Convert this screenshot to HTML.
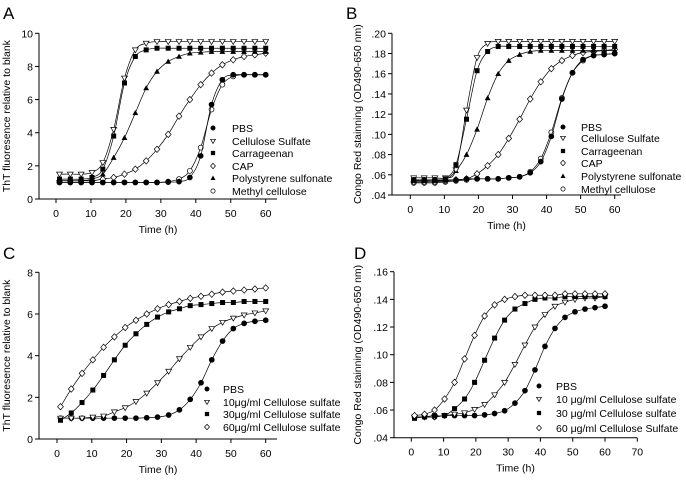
<!DOCTYPE html>
<html><head><meta charset="utf-8"><style>
html,body{margin:0;padding:0;background:#fff}
svg{display:block;font-family:"Liberation Sans",Arial,sans-serif}
</style></head><body>
<svg id="fig" width="686" height="480" viewBox="0 0 686 480" xmlns="http://www.w3.org/2000/svg"></svg>
<script>
const times = [1,4.1,7.2,10.3,13.4,16.5,19.6,22.7,25.8,28.9,32.1,35.2,38.3,41.4,44.5,47.6,50.7,53.8,56.9,60];

const aNames = ["PBS","Cellulose Sulfate","Carrageenan","CAP","Polystyrene sulfonate","Methyl cellulose"];
const aPBS = [1,1,1,1,1,1,1,1,1,1,1.02,1.05,1.3,2.6,5.7,7.2,7.5,7.5,7.5,7.5];
const aCS = [1.5,1.5,1.5,1.6,2.2,4.2,7.3,9.0,9.4,9.5,9.5,9.5,9.5,9.5,9.5,9.5,9.5,9.5,9.5,9.5];
const aCarr = [1.2,1.2,1.2,1.3,1.8,3.8,7.0,8.6,9.0,9.1,9.1,9.1,9.1,9.1,9.1,9.1,9.1,9.1,9.1,9.1];
const aCAP = [1.1,1.1,1.1,1.1,1.2,1.3,1.5,1.8,2.3,3.0,3.9,5.0,6.0,6.9,7.6,8.1,8.4,8.6,8.7,8.8];
const aPS = [1.1,1.1,1.1,1.2,1.5,2.5,3.7,5.2,6.7,7.7,8.3,8.6,8.8,8.85,8.9,8.9,8.9,8.9,8.9,8.9];
const aMC = [1,1,1,1,1,1,1,1,1,1,1.05,1.2,1.7,3.1,5.4,6.9,7.4,7.5,7.5,7.5];
const aYTicks = [0,2,4,6,8,10];

const bPBS = [.055,.055,.055,.055,.055,.056,.056,.056,.056,.057,.058,.062,.073,.098,.135,.161,.174,.178,.179,.180];
const bCS = [.057,.057,.057,.057,.065,.124,.176,.190,.192,.192,.192,.192,.192,.192,.192,.192,.192,.192,.192,.192];
const bCarr = [.055,.055,.055,.056,.070,.115,.163,.182,.187,.187,.187,.187,.187,.187,.187,.187,.187,.187,.187,.187];
const bCAP = [.053,.053,.053,.054,.055,.056,.061,.069,.080,.096,.115,.135,.152,.165,.173,.178,.181,.182,.183,.184];
const bPS = [.054,.054,.054,.055,.064,.080,.105,.136,.160,.173,.179,.182,.183,.183,.183,.183,.183,.183,.183,.183];
const bMC = [.052,.052,.052,.053,.054,.055,.056,.056,.056,.057,.058,.063,.076,.102,.136,.161,.173,.178,.179,.180];
const bYTicks = [.04,.06,.08,.10,.12,.14,.16,.18,.20];

const cNames = ["PBS","10μg/ml Cellulose sulfate","30μg/ml Cellulose sulfate","60μg/ml Cellulose sulfate"];
const cPBS = [1,1,1,1,1,1,1,1,1.02,1.05,1.15,1.4,1.9,2.7,3.8,4.7,5.3,5.55,5.65,5.7];
const c10 = [1,1,1,1.05,1.1,1.3,1.5,1.8,2.2,2.7,3.25,3.85,4.4,4.9,5.3,5.6,5.8,5.95,6.05,6.15];
const c30 = [0.9,1.25,1.75,2.35,3.05,3.8,4.5,5.05,5.5,5.85,6.1,6.25,6.4,6.45,6.5,6.55,6.55,6.6,6.6,6.6];
const c60 = [1.55,2.4,3.15,3.8,4.4,4.9,5.35,5.7,6.0,6.25,6.45,6.6,6.75,6.85,6.95,7.05,7.1,7.15,7.2,7.25];
const cYTicks = [0,2,4,6,8];

const dNames = ["PBS","10 μg/ml Cellulose sulfate","30 μg/ml Cellulose sulfate","60 μg/ml Cellulose Sulfate"];
const dPBS = [.055,.055,.055,.056,.056,.056,.056,.0565,.0575,.0595,.065,.074,.089,.106,.119,.127,.131,.133,.134,.135];
const d10 = [.055,.055,.055,.056,.057,.058,.0605,.064,.071,.080,.093,.107,.120,.129,.135,.138,.140,.141,.141,.142];
const d30 = [.054,.055,.056,.056,.061,.068,.080,.096,.112,.125,.133,.137,.140,.141,.141,.142,.142,.142,.142,.142];
const d60 = [.056,.057,.060,.068,.080,.097,.114,.128,.136,.140,.142,.143,.143,.143,.143,.144,.144,.144,.144,.144];
const dYTicks = [.04,.06,.08,.10,.12,.14,.16];

const xTicks60 = [0,10,20,30,40,50,60];
const xTicks70 = [0,10,20,30,40,50,60,70];

const NS = "http://www.w3.org/2000/svg";
const svg = document.getElementById("fig");
function mk(tag, attrs, parent){const e=document.createElementNS(NS,tag);for(const k in attrs)e.setAttribute(k,attrs[k]);(parent||svg).appendChild(e);return e;}

function marker(g, kind, x, y, sc){
  const s=2.5*sc;let e;
  if(kind==="circF"||kind==="circO") e=mk("circle",{cx:x,cy:y,r:2.5*sc,fill:kind==="circF"?"#000":"#fff",stroke:"#000","stroke-width":0.7},g);
  else if(kind==="sqF") e=mk("rect",{x:x-s,y:y-s,width:2*s,height:2*s,fill:"#000"},g);
  else if(kind==="triD") e=mk("polygon",{points:`${x-2.9*sc},${y-2*sc} ${x+2.9*sc},${y-2*sc} ${x},${y+2.9*sc}`,fill:"#fff",stroke:"#000","stroke-width":0.7},g);
  else if(kind==="triU") e=mk("polygon",{points:`${x-2.9*sc},${y+2.3*sc} ${x+2.9*sc},${y+2.3*sc} ${x},${y-2.9*sc}`,fill:"#000"},g);
  else if(kind==="diaO") e=mk("polygon",{points:`${x},${y-3.2*sc} ${x+2.9*sc},${y} ${x},${y+3.2*sc} ${x-2.9*sc},${y}`,fill:"#fff",stroke:"#000","stroke-width":0.7},g);
  return e;
}
function smooth(pts){
  let d=`M${pts[0][0]},${pts[0][1]}`;
  for(let i=0;i<pts.length-1;i++){
    const p0=pts[i-1]||pts[i],p1=pts[i],p2=pts[i+1],p3=pts[i+2]||p2;
    const c1=[p1[0]+(p2[0]-p0[0])/6,p1[1]+(p2[1]-p0[1])/6];
    const c2=[p2[0]-(p3[0]-p1[0])/6,p2[1]-(p3[1]-p1[1])/6];
    d+=` C${c1[0]},${c1[1]} ${c2[0]},${c2[1]} ${p2[0]},${p2[1]}`;
  }
  return d;
}

function panel(o){
  const g=mk("g",{});
  
  
  const sx=v=>o.x0+(v-o.xmin)/(o.xmax-o.xmin)*(o.x1-o.x0);
  const sy=v=>o.yb+(v-o.ymin)/(o.ymax-o.ymin)*(o.yt-o.yb);
  const lab=mk("text",{x:o.lx,y:o.ly,"font-size":17},g);lab.textContent=o.letter;
  
  
  const ya=mk("line",{x1:o.ax,y1:o.yt,x2:o.ax,y2:o.yb,stroke:"#000","stroke-width":1},g);
  
  
  const xa=mk("line",{x1:o.ax,y1:o.yb,x2:o.axEnd,y2:o.yb,stroke:"#000","stroke-width":1},g);
  
  
  o.yTicks.forEach(v=>{
    const y=sy(v);
    mk("line",{x1:o.ax-4,y1:y,x2:o.ax,y2:y,stroke:"#000"},g);
    const t=mk("text",{x:o.ax-6,y:y+4,"font-size":10.5,"text-anchor":"end"},g);
    t.textContent=o.fmt(v);
    
    
  });
  o.xTicks.forEach(v=>{
    const x=sx(v);
    mk("line",{x1:x,y1:o.yb,x2:x,y2:o.yb+4,stroke:"#000"},g);
    const t=mk("text",{x:x,y:o.yb+18,"font-size":10.5,"text-anchor":"middle"},g);
    t.textContent=v;
    
    
  });
  const xt=mk("text",{x:(o.ax+o.axEnd)/2,y:o.yb+34,"font-size":10.5,"text-anchor":"middle"},g);
  xt.textContent="Time (h)";
  
  
  const ytx=o.ytx, yty=(o.yt+o.yb)/2;
  const yt=mk("text",{x:ytx,y:yty,"font-size":10.5,"text-anchor":"middle",transform:`rotate(-90 ${ytx} ${yty})`},g);
  yt.textContent=o.ytitle;
  
  
  o.series.forEach(s=>{
    const pts=times.map((t,i)=>[sx(t),sy(s.vals[i])]);
    const p=mk("path",{d:smooth(pts),fill:"none",stroke:"#000","stroke-width":0.7},g);
    
    
    pts.forEach(pt=>{
      const m=marker(g,s.kind,pt[0],pt[1],1);
      
      
    });
  });
  o.legend.forEach((s,i)=>{
    const y=o.legY[i];
    const m=marker(g,s.kind,o.legMx,y,0.85);
    
    
    const t=mk("text",{x:o.legTx,y:y+4,"font-size":10.5},g);
    t.textContent=s.label;
    
    
  });
}

const fmt1=v=>String(v);
const fmt2=v=>v.toFixed(2).replace(/^0/,"");

const aSeries=[{vals:aMC,kind:"circO"},{vals:aCAP,kind:"diaO"},{vals:aPS,kind:"triU"},{vals:aCS,kind:"triD"},{vals:aCarr,kind:"sqF"},{vals:aPBS,kind:"circF"}];
const aLeg=[{kind:"circF",label:aNames[0]},{kind:"triD",label:aNames[1]},{kind:"sqF",label:aNames[2]},{kind:"diaO",label:aNames[3]},{kind:"triU",label:aNames[4]},{kind:"circO",label:aNames[5]}];

panel({name:"panel-a",letter:"A",lx:3,ly:19,x0:56,x1:265.7,xmin:0,xmax:60,yt:33.3,yb:199,ymin:0,ymax:10,ax:39,axEnd:277,
  yTicks:aYTicks,xTicks:xTicks60,fmt:fmt1,ytx:10,ytitle:"ThT fluoresence relative to blank",
  series:aSeries,legend:aLeg,legMx:213,legTx:232,legY:[128,141,153,166,178,191]});

const bSeries=[{vals:bMC,kind:"circO"},{vals:bCAP,kind:"diaO"},{vals:bPS,kind:"triU"},{vals:bCS,kind:"triD"},{vals:bCarr,kind:"sqF"},{vals:bPBS,kind:"circF"}];
panel({name:"panel-b",letter:"B",lx:346,ly:19,x0:410.3,x1:614.7,xmin:0,xmax:60,yt:33.3,yb:195,ymin:0.04,ymax:0.20,ax:392,axEnd:621,
  yTicks:bYTicks,xTicks:xTicks60,fmt:fmt2,ytx:361,ytitle:"Congo Red stainning (OD490-650 nm)",
  series:bSeries,legend:aLeg,legMx:563,legTx:581,legY:[127,138,151,163,176,189]});

const cSeries=[{vals:cPBS,kind:"circF"},{vals:c10,kind:"triD"},{vals:c30,kind:"sqF"},{vals:c60,kind:"diaO"}];
const cLeg=[{kind:"circF",label:cNames[0]},{kind:"triD",label:cNames[1]},{kind:"sqF",label:cNames[2]},{kind:"diaO",label:cNames[3]}];
panel({name:"panel-c",letter:"C",lx:3,ly:259,x0:57,x1:265.7,xmin:0,xmax:60,yt:272.3,yb:439,ymin:0,ymax:8,ax:39,axEnd:277,
  yTicks:cYTicks,xTicks:xTicks60,fmt:fmt1,ytx:10,ytitle:"ThT fluoresence relative to blank",
  series:cSeries,legend:cLeg,legMx:207,legTx:223,legY:[389,402,414,427]});

const dSeries=[{vals:dPBS,kind:"circF"},{vals:d10,kind:"triD"},{vals:d30,kind:"sqF"},{vals:d60,kind:"diaO"}];
const dLeg=[{kind:"circF",label:dNames[0]},{kind:"triD",label:dNames[1]},{kind:"sqF",label:dNames[2]},{kind:"diaO",label:dNames[3]}];
panel({name:"panel-d",letter:"D",lx:354,ly:259,x0:411.3,x1:637.3,xmin:0,xmax:70,yt:271.7,yb:437.7,ymin:0.04,ymax:0.16,ax:394,axEnd:637,
  yTicks:dYTicks,xTicks:xTicks70,fmt:fmt2,ytx:361,ytitle:"Congo Red stainning (OD490-650 nm)",
  series:dSeries,legend:dLeg,legMx:539,legTx:556,legY:[386,399,413,428]});
</script>
</body></html>
